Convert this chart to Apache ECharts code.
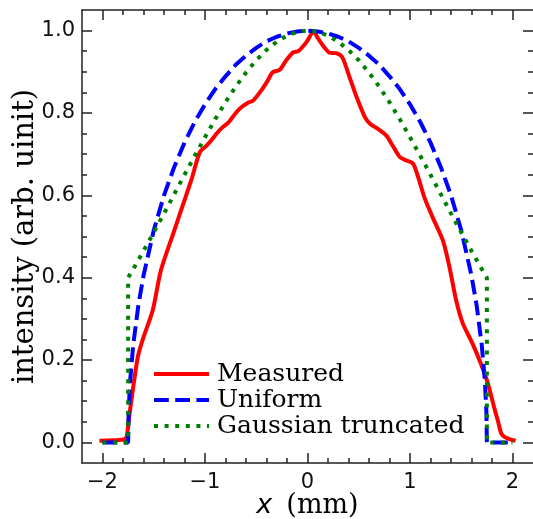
<!DOCTYPE html>
<html>
<head>
<meta charset="utf-8">
<script src="https://cdn.jsdelivr.net/npm/echarts@6/dist/echarts.min.js"></script>
<style>html,body{margin:0;padding:0;background:#fff}#main{width:533px;height:519px}</style>
</head>
<body>
<div id="main"></div>
<script>
// measured profile
var measuredX = [-2.03, -1.90, -1.78, -1.76, -1.74, -1.70, -1.655, -1.61, -1.51, -1.43, -1.31, -1.20, -1.13, -1.05, -0.98, -0.94, -0.88, -0.83, -0.77, -0.70, -0.64, -0.58, -0.53, -0.45, -0.39, -0.34, -0.27, -0.21, -0.14, -0.09, -0.01, 0.06, 0.10, 0.15, 0.21, 0.28, 0.34, 0.41, 0.48, 0.56, 0.61, 0.69, 0.77, 0.83, 0.90, 0.96, 1.03, 1.09, 1.14, 1.22, 1.32, 1.385, 1.45, 1.515, 1.61, 1.69, 1.76, 1.82, 1.86, 1.89, 1.93, 1.97, 2.03];
var measuredY = [0.004, 0.005, 0.008, 0.02, 0.062, 0.135, 0.208, 0.248, 0.321, 0.418, 0.507, 0.588, 0.64, 0.705, 0.722, 0.733, 0.752, 0.765, 0.777, 0.800, 0.815, 0.825, 0.830, 0.855, 0.878, 0.899, 0.905, 0.927, 0.947, 0.950, 0.972, 0.998, 0.982, 0.964, 0.947, 0.945, 0.935, 0.887, 0.838, 0.790, 0.774, 0.761, 0.745, 0.721, 0.693, 0.685, 0.677, 0.636, 0.595, 0.547, 0.491, 0.426, 0.345, 0.289, 0.24, 0.192, 0.143, 0.086, 0.05, 0.022, 0.012, 0.008, 0.004];

var uniformX = [-2.0, -1.75, -1.745, -1.73, -1.70, -1.65, -1.60, -1.50, -1.40, -1.30, -1.20, -1.10, -1.00, -0.90, -0.80, -0.70, -0.60, -0.50, -0.40, -0.30, -0.20, -0.10, 0, 0.10, 0.20, 0.30, 0.40, 0.50, 0.60, 0.70, 0.80, 0.90, 1.00, 1.10, 1.20, 1.30, 1.40, 1.50, 1.60, 1.65, 1.70, 1.73, 1.745, 1.75, 2.0];
var uniformY = [0, 0, 0.076, 0.151, 0.237, 0.333, 0.405, 0.515, 0.600, 0.669, 0.728, 0.778, 0.821, 0.858, 0.889, 0.917, 0.939, 0.958, 0.974, 0.985, 0.993, 0.998, 1.0, 0.998, 0.993, 0.985, 0.974, 0.958, 0.939, 0.917, 0.889, 0.858, 0.821, 0.778, 0.728, 0.669, 0.600, 0.515, 0.405, 0.333, 0.237, 0.151, 0.076, 0, 0];

var gaussX = [-2.0, -1.75, -1.75, -1.7, -1.6, -1.5, -1.4, -1.3, -1.2, -1.1, -1.0, -0.9, -0.8, -0.7, -0.6, -0.5, -0.4, -0.3, -0.2, -0.1, 0, 0.1, 0.2, 0.3, 0.4, 0.5, 0.6, 0.7, 0.8, 0.9, 1.0, 1.1, 1.2, 1.3, 1.4, 1.5, 1.6, 1.7, 1.75, 1.75, 2.0];
var gaussY = [0, 0, 0.400, 0.421, 0.465, 0.510, 0.556, 0.603, 0.650, 0.696, 0.741, 0.785, 0.826, 0.864, 0.898, 0.928, 0.953, 0.973, 0.988, 0.997, 1.0, 0.997, 0.988, 0.973, 0.953, 0.928, 0.898, 0.864, 0.826, 0.785, 0.741, 0.696, 0.650, 0.603, 0.556, 0.510, 0.465, 0.421, 0.400, 0, 0];

var seriesNames = ['Measured', 'Uniform', 'Gaussian truncated'];

// ticks
var xMajorTicks = [-2, -1, 0, 1, 2];
var xMinorTicks = [-2.0, -1.8, -1.6, -1.4, -1.2, -1.0, -0.8, -0.6, -0.4, -0.2, 0, 0.2, 0.4, 0.6, 0.8, 1.0, 1.2, 1.4, 1.6, 1.8, 2.0];
var yMajorTicks = [0, 0.2, 0.4, 0.6, 0.8, 1.0];
var yMinorTicks = [0, 0.05, 0.1, 0.15, 0.2, 0.25, 0.3, 0.35, 0.4, 0.45, 0.5, 0.55, 0.6, 0.65, 0.7, 0.75, 0.8, 0.85, 0.9, 0.95, 1.0];

function zip(xs, ys) {
	var out = [];
	for (var i = 0; i < xs.length; i++) out.push([xs[i], ys[i]]);
	return out;
}

var ink = '#222';
var xMin = -2.2, xMax = 2.2, yMin = -0.05, yMax = 1.05;

function makeAxis(kind, pos, ticks, len, showLine, label) {
	var ax = {
		type: 'value',
		position: pos,
		min: kind === 'x' ? xMin : yMin,
		max: kind === 'x' ? xMax : yMax,
		axisLine: {show: showLine, onZero: false, lineStyle: {color: ink, width: 1.5}},
		axisTick: {show: true, inside: true, length: len, customValues: ticks, lineStyle: {color: ink, width: 1.5}},
		axisLabel: {show: false},
		splitLine: {show: false}
	};
	if (label) {
		ax.axisLabel = {
			show: true,
			customValues: ticks,
			color: '#111',
			fontFamily: 'DejaVu Sans',
			fontSize: 21,
			margin: kind === 'x' ? 9 : 7,
			formatter: function (v) {
				var s = kind === 'x' ? String(Math.abs(v)) : Math.abs(v).toFixed(1);
				return v < 0 ? '\u2212' + s : s;
			}
		};
	}
	return ax;
}

var xAxes = [
	makeAxis('x', 'bottom', xMajorTicks, 10, true, true),
	makeAxis('x', 'bottom', xMinorTicks, 5, false, false),
	makeAxis('x', 'top', xMajorTicks, 10, true, false),
	makeAxis('x', 'top', xMinorTicks, 5, false, false)
];
xAxes[0].name = '{i|x}{sp|}{s|(mm)}';
xAxes[0].nameLocation = 'middle';
xAxes[0].nameGap = 29;
xAxes[0].nameMoveOverlap = false;
xAxes[0].nameTextStyle = {
	rich: {
		i: {fontFamily: 'DejaVu Sans', fontStyle: 'italic', fontSize: 27, color: '#000'},
		sp: {width: 14},
		s: {fontFamily: 'DejaVu Serif', fontSize: 27, color: '#000'}
	}
};

var yAxes = [
	makeAxis('y', 'left', yMajorTicks, 10, true, true),
	makeAxis('y', 'left', yMinorTicks, 5, false, false),
	makeAxis('y', 'right', yMajorTicks, 10, false, false),
	makeAxis('y', 'right', yMinorTicks, 5, false, false)
];
yAxes[0].name = 'intensity (arb. uinit)';
yAxes[0].nameLocation = 'middle';
yAxes[0].nameGap = 42;
yAxes[0].nameMoveOverlap = false;
yAxes[0].nameTextStyle = {fontFamily: 'DejaVu Serif', fontSize: 29, color: '#000'};

var chart = echarts.init(document.getElementById('main'));
chart.setOption({
	animation: false,
	backgroundColor: '#fff',
	grid: {left: 82, right: 0, top: 10, bottom: 56, containLabel: false, outerBoundsMode: 'none'},
	xAxis: xAxes,
	yAxis: yAxes,
	legend: {
		data: seriesNames,
		orient: 'vertical',
		left: 152,
		top: 361,
		padding: 0,
		itemWidth: 55,
		itemHeight: 26,
		itemGap: 0,
		itemStyle: {opacity: 0},
		lineStyle: {width: 'inherit'},
		textStyle: {fontFamily: 'DejaVu Serif', fontSize: 25, color: '#000', lineHeight: 26, padding: [0, 0, 0, 3]}
	},
	series: [
		{
			name: seriesNames[0], type: 'line', data: zip(measuredX, measuredY),
			symbol: 'none', showSymbol: false, z: 2, smooth: 0.25,
			lineStyle: {color: '#ff0000', width: 4}, itemStyle: {color: '#ff0000'}
		},
		{
			name: seriesNames[1], type: 'line', data: zip(uniformX, uniformY),
			symbol: 'none', showSymbol: false, z: 3,
			lineStyle: {color: '#0000ff', width: 4, type: [14.8, 6.4]}, itemStyle: {color: '#0000ff'}
		},
		{
			name: seriesNames[2], type: 'line', data: zip(gaussX, gaussY),
			symbol: 'none', showSymbol: false, z: 4,
			lineStyle: {color: '#008000', width: 4, type: [4, 6.6]}, itemStyle: {color: '#008000'}
		}
	]
});
</script>
</body>
</html>
